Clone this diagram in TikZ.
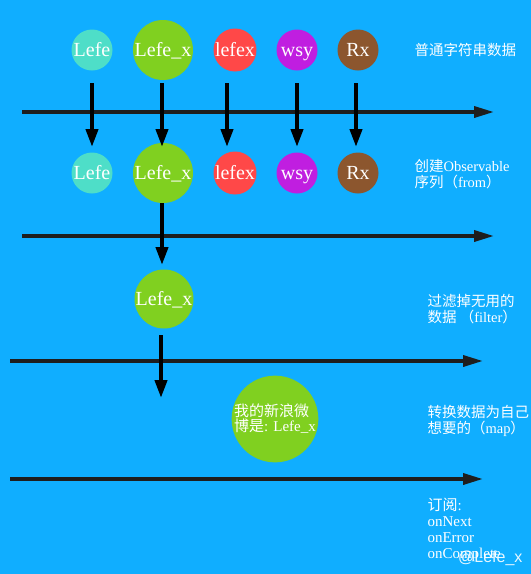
\documentclass[tikz,border=0pt]{standalone}
\usepackage{fontspec}
\setmainfont{Liberation Serif}
\newfontfamily\cjk{Noto Sans CJK SC}
\newfontfamily\wmark{Liberation Sans}
\usetikzlibrary{arrows.meta}
\definecolor{bgblue}{RGB}{16,174,255}
\definecolor{turq}{RGB}{78,222,200}
\definecolor{lime}{RGB}{128,208,32}
\definecolor{tomato}{RGB}{255,72,72}
\definecolor{violet}{RGB}{192,30,224}
\definecolor{rust}{RGB}{140,86,46}
\definecolor{axisgray}{RGB}{30,30,30}
\begin{document}
\begin{tikzpicture}[x=1pt,y=-1pt,
  ball/.style={circle,fill=#1,inner sep=0pt,minimum size=41pt,text=white,text height=14pt,text depth=2pt,font=\fontsize{20}{20}\selectfont},
  bigball/.style={ball=#1,minimum size=60pt},
  flow/.style={draw=black,line width=4pt,-{Triangle[length=18pt,width=12pt]}},
  axis/.style={draw=axisgray,line width=3.5pt,-{Triangle[length=20pt,width=11pt]}},
  note/.style={anchor=west,align=left,text=white,font=\fontsize{14.5}{16}\selectfont}]
\fill[bgblue] (0,0) rectangle (531,574);
\useasboundingbox (0,0) rectangle (531,574);
% strings
\node[ball=turq] (a1) at (92,50) {Lefe};
\node[bigball=lime] (a2) at (163,50) {Lefe\_x};
\node[ball=tomato] (a3) at (235,50) {lefex};
\node[ball=violet] (a4) at (297,50) {wsy};
\node[ball=rust] (a5) at (358,50) {Rx};
\node[note] (n1) at (411,50) {{\cjk 普通字符串数据}};
% timelines
\coordinate (t1a) at (22,112);
\coordinate (t1b) at (494,112);
\coordinate (t2a) at (22,236);
\coordinate (t2b) at (494,236);
\coordinate (t3a) at (10,361);
\coordinate (t3b) at (483,361);
\coordinate (t4a) at (10,479);
\coordinate (t4b) at (483,479);
\draw[axis] (t1a) -- (t1b);
\draw[axis] (t2a) -- (t2b);
\draw[axis] (t3a) -- (t3b);
\draw[axis] (t4a) -- (t4b);
% observable
\node[ball=turq] (b1) at (92,173) {Lefe};
\node[bigball=lime] (b2) at (163,173) {Lefe\_x};
\node[ball=tomato] (b3) at (235,173) {lefex};
\node[ball=violet] (b4) at (297,173) {wsy};
\node[ball=rust] (b5) at (358,173) {Rx};
\node[note] (n2) at (411,174.5) {{\cjk 创建}Observable\\{\cjk 序列（}from{\cjk ）}};
\coordinate (s1) at (0,83);
\coordinate (e1) at (0,147);
\draw[flow] (a1 |- s1) -- (b1 |- e1);
\draw[flow] ([xshift=-1pt]a2 |- s1) -- ([xshift=-1pt]b2 |- e1);
\draw[flow] ([xshift=-8pt]a3 |- s1) -- ([xshift=-8pt]b3 |- e1);
\draw[flow] (a4 |- s1) -- (b4 |- e1);
\draw[flow] ([xshift=-2pt]a5 |- s1) -- ([xshift=-2pt]b5 |- e1);
% filter
\node[bigball=lime,minimum size=59pt] (c1) at (164,299) {Lefe\_x};
\node[note] (n3) at (424,309) {{\cjk 过滤掉无用的}\\{\cjk 数据 （}filter{\cjk ）}};
\coordinate (e2) at (0,265);
\draw[flow] ([xshift=-1pt]b2.south) -- ([xshift=-1pt]b2 |- e2);
% map
\node[circle,fill=lime,inner sep=0pt,minimum size=86pt,text=white,align=left,
  font=\fontsize{15}{15}\selectfont] (d1) at (275,419) {{\cjk 我的新浪微}\\{\cjk 博是}: Lefe\_x};
\node[note] (n4) at (424,421) {{\cjk 转换数据为自己}\\{\cjk 想要的（}map{\cjk ）}};
\coordinate (s3) at (0,335);
\coordinate (e3) at (0,398);
\draw[flow] ([xshift=-3pt]c1 |- s3) -- ([xshift=-3pt]c1 |- e3);
% subscribe
\node[note,font=\fontsize{15}{16}\selectfont] (n5) at (424,530) {{\cjk 订阅}:\\onNext\\onError\\onComplete};
\node[anchor=east,text=white,opacity=0.9,font=\wmark\fontsize{16}{16}\selectfont] (wm) at (526,558) {@Lefe\_x};
\end{tikzpicture}
\end{document}
